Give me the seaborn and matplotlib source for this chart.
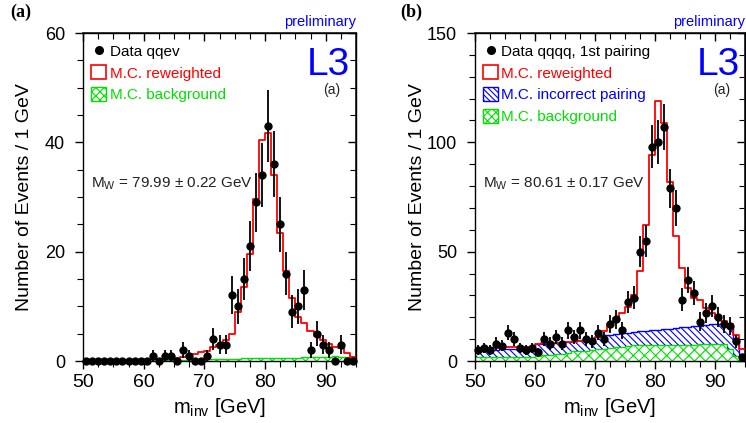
import numpy as np
import pandas as pd
import matplotlib
matplotlib.use("Agg")
import matplotlib.pyplot as plt
from matplotlib.ticker import MultipleLocator
from matplotlib.patches import Patch
from matplotlib.lines import Line2D
import seaborn as sns

# 1 GeV bins from 50 to 95 GeV
edges = np.arange(50, 96, 1.0)
centers = edges[:-1] + 0.5

# (a) qqev channel
qqev_data = [0, 0, 0, 0, 0, 0, 0, 0, 0, 0,
             0, 1, 0, 1, 1, 0, 2, 1, 0, 0,
             1, 4, 3, 3, 12, 10, 15, 21, 29, 34,
             43, 36, 25, 16, 9, 10, 13, 2, 5, 3,
             2, 0, 3, 0, 0]
qqev_mc = [0.1, 0.1, 0.1, 0.1, 0.15, 0.15, 0.2, 0.2, 0.2, 0.25,
           0.3, 0.3, 0.35, 0.4, 0.5, 0.6, 0.8, 1.0, 1.3, 1.6,
           1.8, 2.5, 3.0, 3.8, 5.0, 9.0, 13.6, 19.6, 29.7, 40.5,
           41.7, 34.1, 23.5, 16.5, 11.5, 8.1, 6.9, 5.5, 4.5, 3.9,
           3.1, 2.6, 2.3, 1.5, 0.8]
qqev_bkg = [0.05] * 13 + [0.1] * 7 + \
           [0.3, 0.35, 0.4, 0.4, 0.45, 0.45,
            0.5, 0.55, 0.5, 0.6, 0.55, 0.5, 0.6, 0.55, 0.6, 0.6, 0.65,
            0.8, 0.75, 0.8, 0.7, 0.85, 0.8, 0.7, 0.3]

# (b) qqqq channel, 1st pairing
qqqq_data = [5, 6, 5, 8, 7, 13, 10, 6, 5, 6,
             4, 10, 8, 11, 8, 14, 11, 14, 10, 9,
             13, 10, 17, 19, 14, 27, 29, 50, 55, 98,
             100, 107, 79, 70, 28, 37, 31, 18, 22, 25,
             20, 17, 16, 9, 2]
qqqq_mc = [6.0, 6.0, 6.1, 6.1, 6.2, 6.2, 6.3, 6.3, 6.4, 6.4,
           8.0, 8.1, 8.2, 8.3, 8.4, 8.7, 8.9, 9.1, 9.4, 9.8,
           11.0, 13.6, 16.7, 19.8, 22.0, 24.5, 30.0, 41.0, 62.0, 94.0,
           119, 109, 82, 57, 42.7, 33.5, 29.0, 27.7, 24.3, 22.0,
           19.8, 18.2, 16.7, 12.0, 5.3]
# incorrect pairing, stacked on top of background
qqqq_wrong = [4.5, 4.7, 4.9, 5.1, 5.3, 5.4, 5.5, 5.6, 5.7, 5.8,
              7.8, 8.0, 8.2, 8.4, 8.6, 8.9, 9.2, 9.5, 9.8, 10.2,
              10.8, 11.8, 12.0, 12.3, 12.6, 12.9, 13.2, 13.5, 13.7, 14.0,
              14.2, 14.5, 14.8, 15.1, 15.4, 15.6, 15.9, 16.1, 16.4, 16.7,
              17.0, 17.2, 15.5, 8.5, 3.0]
qqqq_bkg = [1.7, 1.8, 1.8, 1.9, 1.9, 1.9, 2.0, 2.0, 2.0, 2.0,
            2.5, 2.6, 2.8, 3.0, 3.2, 3.5, 4.5, 4.6, 4.8, 5.0,
            5.3, 5.6, 6.0, 6.5, 6.6, 6.8, 7.2, 7.2, 7.3, 7.3,
            7.3, 7.4, 7.4, 7.5, 7.5, 7.5, 7.5, 7.6, 7.6, 7.7,
            8.0, 8.0, 5.3, 2.5, 1.0]

RED = "#ff0000"
BLUE = "#0000ff"
GREEN = "#00e000"

sns.set_theme(style="ticks")
plt.rcParams["font.family"] = ["Liberation Sans", "DejaVu Sans"]
plt.rcParams["mathtext.default"] = "regular"
plt.rcParams["hatch.linewidth"] = 0.8

W, H = 746, 423
fig = plt.figure(figsize=(W / 100, H / 100), dpi=100)
axL = fig.add_axes([83 / W, 62 / H, 273 / W, 328 / H])
axR = fig.add_axes([475 / W, 62 / H, 270 / W, 328 / H])


def panel(ax, data, mc, bkg, wrong, ymax, ymaj, ymin, labels, colors, mw, ylab_x):
    bkg = np.array(bkg)
    ax.stairs(bkg, edges, baseline=0, fill=True, facecolor="none",
              edgecolor=GREEN, hatch="xxx", lw=0)
    ax.stairs(bkg, edges, baseline=None, color=GREEN, lw=1)
    if wrong is not None:
        ax.stairs(wrong, edges, baseline=bkg, fill=True, facecolor="none",
                  edgecolor=BLUE, hatch="\\" * 5, lw=0)
        ax.stairs(wrong, edges, baseline=None, color=BLUE, lw=1)
    mc_df = pd.DataFrame({"m": centers, "n": mc})
    sns.histplot(data=mc_df, x="m", weights="n", binwidth=1, binrange=(50, 95),
                 element="step", fill=False, color=RED, linewidth=1.3, ax=ax)
    data = np.array(data, dtype=float)
    ax.errorbar(centers, data, yerr=np.sqrt(data), fmt="none",
                ecolor="black", elinewidth=1.3, capsize=0, zorder=4)
    sns.scatterplot(x=centers, y=data, color="black", s=36, linewidth=0,
                    ax=ax, zorder=5, clip_on=False, legend=False)

    ax.set_xlim(50, 95)
    ax.set_ylim(0, ymax)
    ax.xaxis.set_major_locator(MultipleLocator(10))
    ax.xaxis.set_minor_locator(MultipleLocator(2.5))
    ax.yaxis.set_major_locator(MultipleLocator(ymaj))
    ax.yaxis.set_minor_locator(MultipleLocator(ymin))
    ax.tick_params(which="both", direction="out", colors="black",
                   top=False, right=False)
    ax.tick_params(axis="x", labelsize=14, pad=3)
    ax.tick_params(axis="y", labelsize=13, pad=7)
    ax.tick_params(which="major", length=6, width=1)
    ax.tick_params(which="minor", length=4, width=0.8)
    for s in ax.spines.values():
        s.set_color("black")
        s.set_linewidth(1)

    top = ax.secondary_xaxis("top")
    top.xaxis.set_major_locator(MultipleLocator(10))
    top.xaxis.set_minor_locator(MultipleLocator(2.5))
    right = ax.secondary_yaxis("right")
    right.yaxis.set_major_locator(MultipleLocator(ymaj))
    right.yaxis.set_minor_locator(MultipleLocator(ymin))
    for sec in (top, right):
        sec.tick_params(which="both", direction="in", colors="black",
                        labeltop=False, labelright=False)
        sec.tick_params(which="major", length=6, width=1)
        sec.tick_params(which="minor", length=4, width=0.8)

    ax.set_xlabel(r"m$_{inv}$ [GeV]", fontsize=14.5, color="black", labelpad=4)
    ax.set_ylabel("Number of Events / 1 GeV", fontsize=14, color="black")
    ax.yaxis.set_label_coords(ylab_x, 0.5)

    handles = [Line2D([], [], ls="none", marker="o", color="black", markersize=5.5),
               Patch(facecolor="none", edgecolor=RED, lw=1.2)]
    if wrong is not None:
        handles.append(Patch(facecolor="none", edgecolor=BLUE, hatch="\\" * 6, lw=1))
    handles.append(Patch(facecolor="none", edgecolor=GREEN, hatch="xxxx", lw=1))
    ax.legend(handles, labels, loc="upper left", bbox_to_anchor=(0.03, 0.968),
              frameon=False, fontsize=11, handlelength=1.0, handleheight=1.0,
              handletextpad=0.2, labelspacing=0.45, borderpad=0, borderaxespad=0,
              labelcolor=colors)
    ax.text(0.03, 0.53, mw, transform=ax.transAxes, fontsize=11, color="#222222")


panel(axL, qqev_data, qqev_mc, qqev_bkg, None, 60, 20, 5,
      ["Data qqev", "M.C. reweighted", "M.C. background"],
      ["black", RED, GREEN], r"M$_W$ = 79.99 ± 0.22 GeV", -0.184)
panel(axR, qqqq_data, qqqq_mc, qqqq_bkg, qqqq_wrong, 150, 50, 10,
      ["Data qqqq, 1st pairing", "M.C. reweighted", "M.C. incorrect pairing",
       "M.C. background"],
      ["black", RED, BLUE, GREEN], r"M$_W$ = 80.61 ± 0.17 GeV", -0.182)

for x0, tag in ((10, "(a)"), (400, "(b)")):
    fig.text(x0 / W, 1 - 17 / H, tag, fontfamily="Liberation Serif",
             fontweight="bold", fontsize=13, color="black")
for xr in (356, 745):
    fig.text(xr / W, 1 - 26 / H, "preliminary", ha="right", va="baseline",
             fontsize=10.5, color=BLUE)
for xr, xa in ((350, 340), (740, 730)):
    fig.text(xr / W, 1 - 75 / H, "L3", ha="right", va="baseline",
             fontsize=28, color=BLUE)
    fig.text(xa / W, 1 - 94 / H, "(a)", ha="right", va="baseline",
             fontsize=10, color="#222222")

fig.savefig("out.png", dpi=100)
